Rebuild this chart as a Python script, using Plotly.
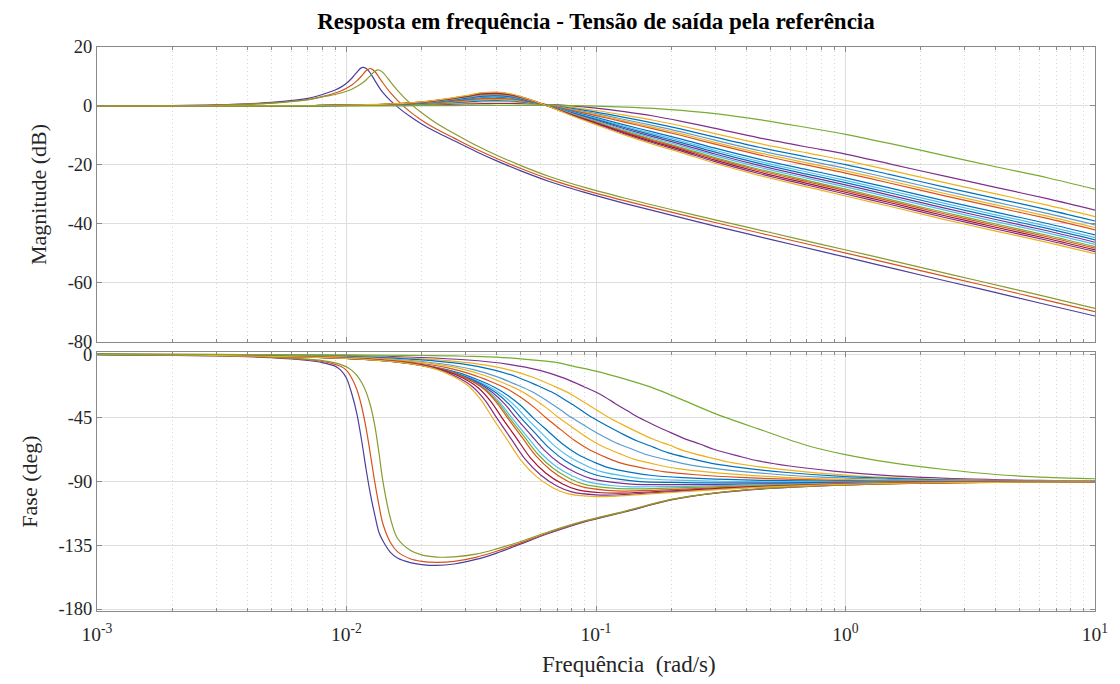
import plotly.graph_objects as go

# ---------------- data ----------------
# common frequency grid for the "B" family magnitudes (rad/s)
freq_b = [0.001, 0.003, 0.006, 0.01, 0.015, 0.02, 0.025, 0.03, 0.035, 0.04, 0.045, 0.05, 0.06, 0.07,
          0.08, 0.1, 0.13, 0.17, 0.22, 0.3, 0.45, 0.7, 1, 1.5, 2.5, 4, 6.5, 10]

mag_b1 = [0, 0.01, 0.05, 0.12, 0.25, 0.4, 0.55, 0.7, 0.8, 0.85, 0.85, 0.8, 0.6, 0.35, 0.05, -0.7, -1.9, -3.4, -5.2, -7.6, -10.8, -13.9, -16.3, -19.6, -23.8, -27.6, -31.5, -35.3]
mag_b2 = [0, 0.01, 0.06, 0.15, 0.32, 0.55, 0.83, 1.12, 1.35, 1.42, 1.35, 1.16, 0.64, 0.1, -0.45, -1.53, -3.08, -4.83, -6.78, -9.36, -12.69, -15.91, -18.42, -21.75, -25.99, -29.81, -33.71, -37.5]
mag_b3 = [0, 0.01, 0.06, 0.17, 0.36, 0.65, 1.01, 1.4, 1.73, 1.81, 1.69, 1.4, 0.68, -0.06, -0.79, -2.1, -3.88, -5.8, -7.85, -10.55, -13.98, -17.28, -19.85, -23.2, -27.48, -31.3, -35.2, -39.0]
mag_b4 = [0, 0.01, 0.07, 0.18, 0.4, 0.74, 1.18, 1.65, 2.05, 2.15, 1.98, 1.61, 0.7, -0.21, -1.08, -2.59, -4.57, -6.64, -8.78, -11.59, -15.09, -18.46, -21.1, -24.47, -28.77, -32.6, -36.5, -40.3]
mag_b5 = [0, 0.01, 0.07, 0.19, 0.43, 0.8, 1.29, 1.82, 2.28, 2.39, 2.19, 1.76, 0.72, -0.31, -1.29, -2.93, -5.05, -7.23, -9.43, -12.31, -15.87, -19.29, -21.97, -25.35, -29.67, -33.51, -37.41, -41.2]
mag_b6 = [0, 0.01, 0.07, 0.2, 0.45, 0.85, 1.39, 1.97, 2.48, 2.59, 2.37, 1.89, 0.74, -0.4, -1.47, -3.24, -5.48, -7.75, -10.0, -12.95, -16.55, -20.02, -22.73, -26.12, -30.46, -34.3, -38.2, -42.0]
mag_b7 = [0, 0.01, 0.08, 0.22, 0.51, 0.97, 1.6, 2.29, 2.9, 3.04, 2.75, 2.16, 0.77, -0.59, -1.85, -3.88, -6.39, -8.85, -11.22, -14.3, -18.01, -21.57, -24.37, -27.78, -32.15, -36.01, -39.91, -43.7]
mag_b8 = [0, 0.01, 0.08, 0.23, 0.53, 1.03, 1.71, 2.46, 3.12, 3.27, 2.95, 2.31, 0.79, -0.69, -2.05, -4.22, -6.86, -9.43, -11.86, -15.01, -18.78, -22.38, -25.22, -28.64, -33.03, -36.89, -40.79, -44.6]
mag_b9 = [0, 0.02, 0.08, 0.24, 0.56, 1.08, 1.81, 2.61, 3.32, 3.48, 3.13, 2.44, 0.8, -0.78, -2.23, -4.52, -7.29, -9.95, -12.43, -15.65, -19.46, -23.11, -25.98, -29.42, -33.83, -37.69, -41.59, -45.4]
mag_b10 = [0, 0.02, 0.09, 0.25, 0.58, 1.14, 1.91, 2.76, 3.52, 3.68, 3.32, 2.57, 0.82, -0.86, -2.42, -4.82, -7.71, -10.47, -13.0, -16.28, -20.15, -23.84, -26.75, -30.2, -34.62, -38.49, -42.39, -46.2]
mag_b11 = [0, 0.02, 0.09, 0.26, 0.6, 1.18, 2.0, 2.9, 3.7, 3.87, 3.48, 2.68, 0.84, -0.94, -2.58, -5.09, -8.09, -10.93, -13.51, -16.85, -20.76, -24.48, -27.43, -30.89, -35.32, -39.2, -43.1, -46.9]
mag_b12 = [0, 0.02, 0.09, 0.27, 0.63, 1.24, 2.1, 3.05, 3.9, 4.08, 3.66, 2.81, 0.85, -1.03, -2.76, -5.39, -8.52, -11.44, -14.08, -17.49, -21.44, -25.21, -28.2, -31.67, -36.12, -40.0, -43.9, -47.7]
mag_b13 = [0, 0.02, 0.09, 0.28, 0.64, 1.27, 2.16, 3.14, 4.03, 4.21, 3.77, 2.89, 0.86, -1.09, -2.87, -5.58, -8.79, -11.77, -14.44, -17.89, -21.87, -25.67, -28.68, -32.16, -36.62, -40.51, -44.41, -48.2]
mag_b14 = [0, 0.02, 0.1, 0.28, 0.66, 1.31, 2.24, 3.25, 4.17, 4.36, 3.9, 2.99, 0.87, -1.15, -3.01, -5.81, -9.1, -12.16, -14.87, -18.36, -22.38, -26.21, -29.25, -32.73, -37.21, -41.1, -45.0, -48.8]
mag_b15 = [0, 0.02, 0.1, 0.29, 0.68, 1.35, 2.31, 3.37, 4.33, 4.52, 4.04, 3.09, 0.89, -1.22, -3.14, -6.04, -9.43, -12.55, -15.3, -18.85, -22.9, -26.77, -29.83, -33.32, -37.81, -41.7, -45.6, -49.4]
mag_b16 = [0, 0.02, 0.1, 0.3, 0.7, 1.4, 2.4, 3.5, 4.5, 4.7, 4.2, 3.2, 0.9, -1.3, -3.3, -6.3, -9.8, -13.0, -15.8, -19.4, -23.5, -27.4, -30.5, -34.0, -38.5, -42.4, -46.3, -50.1]

# phase of the B family: frequency relative to each curve's -45 deg crossing
ratio_b = [0.0067, 0.02, 0.067, 0.134, 0.2, 0.3, 0.4, 0.5, 0.6, 0.7, 0.8, 0.9, 1, 1.15, 1.3, 1.5, 1.75,
           2, 2.5, 3, 4, 6, 10, 20, 40, 70, 150, 270]
f45_b = [0.149, 0.113, 0.097, 0.080, 0.071, 0.063, 0.056, 0.0525, 0.050, 0.0478, 0.046, 0.045,
         0.0442, 0.042, 0.040, 0.0385]

ph_b1 = [0, -0.3, -1, -2.4, -4, -7.2, -11.5, -17, -23, -28.5, -34.8, -40.2, -45, -50.2, -54.5, -59.3, -63.5, -67.4, -72, -75.4, -79, -82.6, -85.8, -88.1, -89.2, -89.6, -89.8, -89.9]
ph_b2 = [0, -0.3, -1.0, -2.4, -3.9, -7.1, -11.3, -16.7, -22.6, -28.1, -34.4, -40.0, -45, -50.5, -55.1, -60.1, -64.4, -68.3, -72.9, -76.2, -79.6, -83.0, -86.1, -88.2, -89.3, -89.6, -89.8, -89.9]
ph_b3 = [0, -0.3, -1.0, -2.3, -3.9, -6.9, -11.1, -16.3, -22.2, -27.6, -33.9, -39.7, -45, -51.0, -55.9, -61.2, -65.7, -69.6, -74.0, -77.2, -80.4, -83.6, -86.4, -88.4, -89.3, -89.7, -89.8, -89.9]
ph_b4 = [0, -0.3, -1.0, -2.3, -3.8, -6.8, -10.8, -15.9, -21.6, -27.0, -33.3, -39.3, -45, -51.5, -57.0, -62.6, -67.2, -71.1, -75.4, -78.4, -81.4, -84.3, -86.9, -88.6, -89.5, -89.7, -89.8, -89.9]
ph_b5 = [0, -0.3, -1.0, -2.2, -3.6, -6.4, -10.1, -14.9, -20.4, -25.8, -32.1, -38.5, -45, -52.6, -59.0, -65.3, -70.3, -74.2, -78.3, -80.9, -83.4, -85.8, -87.7, -89.1, -89.7, -89.8, -89.9, -90.0]
ph_b6 = [0, -0.3, -0.9, -2.2, -3.5, -6.1, -9.6, -14.1, -19.3, -24.6, -31.0, -37.8, -45, -53.5, -60.9, -67.7, -73.1, -77.0, -80.8, -83.2, -85.2, -87.1, -88.5, -89.5, -89.9, -89.9, -90.0, -90.0]
ph_b7 = [0, -0.3, -0.9, -2.1, -3.3, -5.7, -9.0, -13.1, -18.1, -23.4, -29.8, -37.0, -45, -54.6, -62.9, -70.5, -76.2, -80.2, -83.7, -85.7, -87.2, -88.5, -89.4, -89.9, -90.1, -90.1, -90.0, -90.0]
ph_b8 = [-0.1, -0.3, -0.9, -2.0, -3.2, -5.4, -8.4, -12.3, -17.0, -22.3, -28.7, -36.4, -45, -55.6, -64.8, -72.9, -79.0, -83.0, -86.3, -88.0, -89.0, -89.8, -90.2, -90.3, -90.3, -90.2, -90.1, -90.1]
ph_b9 = [-0.1, -0.2, -0.9, -1.9, -3.0, -5.1, -7.9, -11.5, -16.0, -21.3, -27.7, -35.7, -45, -56.5, -66.4, -75.1, -81.5, -85.4, -88.5, -90.0, -90.6, -91.0, -90.9, -90.7, -90.4, -90.2, -90.1, -90.1]
ph_b10 = [-0.1, -0.2, -0.9, -1.9, -2.9, -4.8, -7.4, -10.8, -15.1, -20.3, -26.7, -35.1, -45, -57.3, -68.0, -77.3, -84.0, -87.9, -90.8, -92.0, -92.2, -92.1, -91.6, -91.0, -90.6, -90.3, -90.2, -90.1]
ph_b11 = [-0.1, -0.2, -0.9, -1.8, -2.8, -4.5, -7.0, -10.1, -14.2, -19.4, -25.8, -34.6, -45, -58.1, -69.5, -79.2, -86.1, -90.1, -92.8, -93.7, -93.6, -93.1, -92.2, -91.3, -90.7, -90.4, -90.2, -90.1]
ph_b12 = [-0.1, -0.2, -0.8, -1.8, -2.7, -4.3, -6.6, -9.6, -13.5, -18.6, -25.1, -34.1, -45, -58.7, -70.7, -80.8, -88.0, -92.0, -94.5, -95.2, -94.8, -94.0, -92.8, -91.6, -90.9, -90.5, -90.3, -90.1]
ph_b13 = [-0.1, -0.2, -0.8, -1.7, -2.6, -4.1, -6.2, -9.0, -12.8, -17.9, -24.3, -33.7, -45, -59.4, -71.9, -82.4, -89.9, -93.8, -96.2, -96.7, -96.0, -94.8, -93.3, -91.8, -91.0, -90.5, -90.3, -90.2]
ph_b14 = [-0.1, -0.2, -0.8, -1.7, -2.5, -3.8, -5.9, -8.4, -12.1, -17.1, -23.6, -33.2, -45, -60.0, -73.2, -84.1, -91.7, -95.7, -97.9, -98.2, -97.2, -95.7, -93.8, -92.1, -91.1, -90.6, -90.3, -90.2]
ph_b15 = [-0.1, -0.2, -0.8, -1.6, -2.4, -3.6, -5.5, -8.0, -11.5, -16.5, -23.0, -32.8, -45, -60.6, -74.2, -85.4, -93.3, -97.3, -99.4, -99.5, -98.2, -96.4, -94.3, -92.3, -91.2, -90.7, -90.4, -90.2]
ph_b16 = [-0.1, -0.2, -0.8, -1.6, -2.3, -3.5, -5.3, -7.6, -11, -16, -22.5, -32.5, -45, -61, -75, -86.5, -94.5, -98.5, -100.5, -100.5, -99, -97, -94.6, -92.5, -91.3, -90.7, -90.4, -90.2]

# widest-band curve (green), on freq_b
mag_g = [0, 0, 0.01, 0.03, 0.06, 0.1, 0.13, 0.16, 0.18, 0.2, 0.2, 0.2, 0.18, 0.15, 0.1, -0.05, -0.35, -0.8, -1.5, -2.6, -4.6, -7.3, -9.6, -12.7, -16.8, -20.6, -24.4, -28.2]
ph_g = [0, -0.2, -0.4, -0.6, -0.8, -1.0, -1.2, -1.5, -1.8, -2.2, -2.7, -3.3, -4.6, -6.0, -8.3, -12, -17.5, -24, -32, -42, -53, -64.5, -71, -76.5, -81.5, -85, -87, -88]

# resonant "A" family
freq_a = [0.001, 0.003, 0.005, 0.007, 0.008, 0.009, 0.0095, 0.01, 0.0105, 0.011, 0.0115, 0.012, 0.0125,
          0.013, 0.0135, 0.014, 0.015, 0.016, 0.018, 0.02, 0.023, 0.027, 0.033, 0.04, 0.05, 0.065, 0.09,
          0.13, 0.2, 0.3, 0.5, 0.8, 1.3, 2, 3.5, 6, 10]
mag_a1 = [0.0, 0.35, 1.2, 2.6, 3.9, 5.4, 6.4, 7.7, 9.4, 11.4, 13.0, 12.7, 11.0, 8.6, 6.4, 4.5, 1.8, -0.3, -3.6, -6.1, -8.9, -11.8, -15.4, -18.6, -22.0, -25.6, -29.3, -33.0, -37.0, -40.7, -45.2, -49.3, -53.5, -57.3, -62.1, -66.8, -71.2]
mag_a2 = [0.0, 0.3, 1.0, 2.2, 3.2, 4.4, 5.1, 6.0, 7.1, 8.5, 10.2, 12.0, 12.7, 11.7, 9.7, 7.8, 4.5, 1.9, -2.0, -4.8, -7.9, -10.9, -14.6, -17.8, -21.2, -24.8, -28.5, -32.1, -36.0, -39.5, -43.9, -47.9, -52.1, -55.8, -60.6, -65.3, -69.7]
mag_a3 = [0.0, 0.25, 1.0, 2.1, 3.1, 3.9, 4.4, 5.0, 5.7, 6.6, 7.6, 8.9, 10.4, 11.8, 12.2, 11.3, 8.2, 5.3, 0.9, -2.3, -5.9, -9.3, -13.3, -16.7, -20.2, -23.9, -27.6, -31.2, -35.1, -38.6, -42.9, -46.9, -51.0, -54.7, -59.5, -64.1, -68.6]
ph_a1 = [-0.3, -1.2, -2.5, -4.5, -6.0, -8.5, -11.5, -17, -28, -42, -61, -82, -100, -114, -126, -132, -140, -144, -147.2, -148.6, -149.2, -148.2, -145, -140.5, -134, -126.5, -118.5, -111.5, -103, -98.2, -94.8, -93, -91.8, -91.1, -90.6, -90.3, -90.2]
ph_a2 = [-0.3, -1.1, -2.3, -4.0, -5.2, -7.2, -8.8, -11.5, -17, -25, -37, -53, -72, -91, -107, -120, -133, -139.5, -144.5, -146.3, -147, -146.3, -143.5, -139.2, -133.3, -126, -118.2, -111.2, -102.8, -98.1, -94.7, -92.9, -91.8, -91.1, -90.6, -90.3, -90.2]
ph_a3 = [-0.3, -1.0, -2.1, -3.6, -4.6, -6.2, -7.4, -9.0, -11.5, -15, -20, -27, -37, -51, -70, -90, -116, -130, -138.5, -141.8, -143.3, -143.2, -141.3, -137.5, -132.3, -125.3, -117.8, -111, -102.6, -98, -94.6, -92.9, -91.8, -91.1, -90.6, -90.3, -90.2]

colors_b = ['#7E2F8E', '#EDB120', '#0072BD', '#5B9BD0', '#EDB120', '#D95319', '#0072BD', '#4DBEEE',
            '#0072BD', '#7E2F8E', '#4DBEEE', '#77AC30', '#D95319', '#A2142F', '#7E2F8E', '#EDB120']
colors_a = ['#4B3F9E', '#D4531E', '#8A9A2E']
color_g = '#77AC30'

mag_tick_vals = [20, 0, -20, -40, -60, -80]
mag_tick_text = ['20', '0', '-20', '-40', '-60', '-80']
ph_tick_vals = [0, -45, -90, -135, -180]
ph_tick_text = ['0', '-45', '-90', '-135', '-180']
freq_tick_vals = [0.001, 0.01, 0.1, 1, 10]
freq_tick_text = ['10<sup>-3</sup>', '10<sup>-2</sup>', '10<sup>-1</sup>', '10<sup>0</sup>', '10<sup>1</sup>']

# ---------------- figure ----------------
mag_b = [mag_b1, mag_b2, mag_b3, mag_b4, mag_b5, mag_b6, mag_b7, mag_b8, mag_b9, mag_b10, mag_b11,
         mag_b12, mag_b13, mag_b14, mag_b15, mag_b16]
ph_b = [ph_b1, ph_b2, ph_b3, ph_b4, ph_b5, ph_b6, ph_b7, ph_b8, ph_b9, ph_b10, ph_b11, ph_b12,
        ph_b13, ph_b14, ph_b15, ph_b16]
mag_a = [mag_a1, mag_a2, mag_a3]
ph_a = [ph_a1, ph_a2, ph_a3]

LW = 1.2
fig = go.Figure()


def add(x, y, color, row):
    fig.add_trace(go.Scatter(
        x=x, y=y, mode='lines', showlegend=False, hoverinfo='skip',
        line=dict(color=color, width=LW, shape='spline', smoothing=0.9),
        xaxis='x' if row == 1 else 'x2', yaxis='y' if row == 1 else 'y2'))


for m, c in zip(mag_a, colors_a):
    add(freq_a, m, c, 1)
for m, c in zip(mag_b, colors_b):
    add(freq_b, m, c, 1)
add(freq_b, mag_g, color_g, 1)

for p, c in zip(ph_a, colors_a):
    add(freq_a, p, c, 2)
for p, f45, c in zip(ph_b, f45_b, colors_b):
    add([f45 * r for r in ratio_b], p, c, 2)
add(freq_b, ph_g, color_g, 2)

minor_vals = [k * 10 ** e for e in range(-3, 1) for k in range(2, 10)]
FONT = 'Liberation Serif, Times New Roman, serif'
AX = '#262626'
BOX = '#8a8a8a'
GRID = '#dedede'
MGRID = '#d6d6d6'

xcommon = dict(type='log', range=[-3, 1], tickvals=freq_tick_vals, ticktext=freq_tick_text,
               showgrid=True, gridcolor=GRID, gridwidth=1, zeroline=False,
               showline=True, linecolor=BOX, linewidth=1, mirror='allticks',
               ticks='inside', ticklen=5, tickcolor=BOX,
               minor=dict(tickvals=minor_vals, ticks='inside', ticklen=3, tickcolor=BOX,
                          showgrid=True, gridcolor=MGRID, griddash='1px,3px', gridwidth=1),
               tickfont=dict(family=FONT, size=19.5, color=AX))
ycommon = dict(showgrid=True, gridcolor=GRID, gridwidth=1, zeroline=False,
               showline=True, linecolor=BOX, linewidth=1, mirror='allticks',
               ticks='inside', ticklen=5, tickcolor=BOX,
               tickfont=dict(family=FONT, size=18.5, color=AX))

fig.update_layout(
    width=1120, height=684,
    margin=dict(l=97, r=25, t=47, b=73),
    paper_bgcolor='white', plot_bgcolor='white',
    title=dict(text='<b>Resposta em frequência - Tensão de saída pela referência</b>',
               x=0.5, xref='paper', xanchor='center', y=1 - 21 / 684, yref='container',
               yanchor='middle', font=dict(family=FONT, size=23, color='black')),
    xaxis=dict(xcommon, anchor='y', domain=[0, 1], showticklabels=False),
    xaxis2=dict(xcommon, anchor='y2', domain=[0, 1], ticklabelstandoff=6),
    yaxis=dict(ycommon, domain=[0.477, 1], range=[-80, 20], tickvals=mag_tick_vals,
               ticktext=mag_tick_text,
               title=dict(text='Magnitude (dB)', font=dict(family=FONT, size=22, color=AX), standoff=14)),
    yaxis2=dict(ycommon, domain=[0, 0.459], range=[-181.4, 1.4], tickvals=ph_tick_vals,
                ticktext=ph_tick_text,
                title=dict(text='Fase (deg)', font=dict(family=FONT, size=22, color=AX), standoff=14)),
    annotations=[dict(text='Frequência\u00a0 (rad/s)', xref='paper', yref='paper',
                      x=(629 - 97) / 998, y=(611 - 664) / 564, xanchor='center', yanchor='middle',
                      showarrow=False, font=dict(family=FONT, size=23, color=AX))],
)

fig.write_html('out.html')
